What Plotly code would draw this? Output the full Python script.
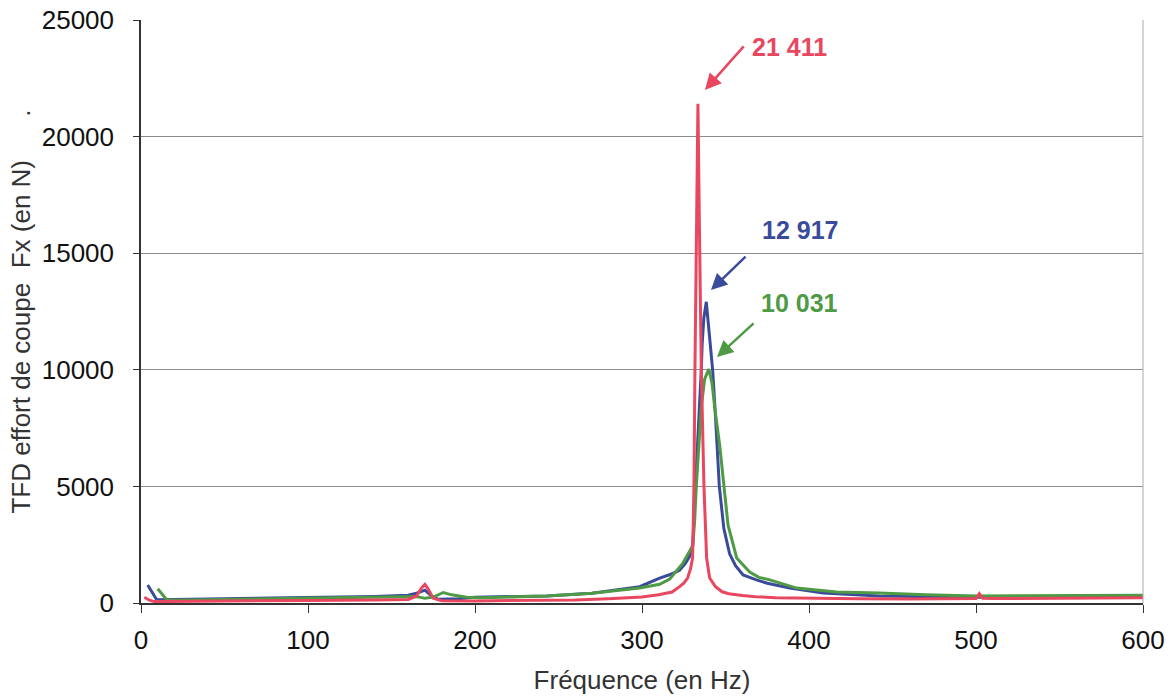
import plotly.graph_objects as go

# ---------------- data ----------------
freq_red = [2, 5, 8, 20, 50, 100, 140, 160, 165, 168, 170, 172, 175, 180, 200, 230, 260, 280,
            300, 310, 318, 322.5, 325, 327.3, 329, 330.3, 331.1, 331.7, 332.6, 333.5, 334.4,
            335.5, 337.1, 338.7, 340.5, 344, 348, 352, 360, 368, 380, 400, 430, 460, 490,
            500, 502, 504, 510, 550, 600]
fx_red = [250, 120, 60, 70, 90, 110, 130, 150, 300, 650, 800, 600, 200, 100, 90, 100, 130, 180,
          260, 350, 470, 700, 850, 1070, 1450, 1930, 5000, 10000, 16000, 21411, 16000,
          10000, 5000, 1930, 1070, 700, 480, 400, 320, 270, 230, 200, 180, 170, 180,
          190, 400, 200, 190, 200, 220]

freq_blue = [4, 9.4, 20, 50, 100, 140, 160, 165, 170, 174, 178, 190, 200, 243, 270, 298.6,
             310.6, 316, 322.5, 326, 328.5, 330.4, 332, 333.5, 334.6, 335.5, 336, 337, 338.5,
             339.7, 340.8, 342.3, 344, 346.3, 349, 352.5, 356, 360.5, 368.5, 375, 388.5,
             408.5, 442, 500, 550, 600]
fx_blue = [770, 140, 150, 180, 220, 280, 330, 420, 550, 300, 160, 180, 250, 300, 420, 700,
           1070, 1200, 1400, 1700, 2000, 2500, 5000, 7000, 8400, 10000, 11070, 12200, 12917,
           12000, 11070, 10000, 8000, 5000, 3200, 2100, 1600, 1200, 990, 850, 640,
           430, 300, 250, 260, 280]

freq_green = [10, 15.4, 20, 50, 100, 150, 165, 170, 175, 181, 186, 195, 203, 243, 270, 298.6,
              310.6, 316.6, 324.4, 330.4, 331.5, 332.5, 334, 335.5, 337.5, 340, 342, 343.5,
              346.5, 349, 351.5, 356.7, 364.5, 370, 376.5, 392.6, 416.5, 442, 470, 500,
              540, 600]
fx_green = [610, 140, 120, 150, 200, 250, 280, 200, 250, 450, 350, 250, 220, 300, 420, 640,
            800, 1030, 1700, 2450, 3500, 5000, 6780, 8400, 9600, 10031, 9400, 8400,
            6780, 5000, 3350, 1930, 1330, 1100, 990, 640, 470, 430, 350, 300,
            300, 330]

x_ticks = [0, 100, 200, 300, 400, 500, 600]
y_ticks = [0, 5000, 10000, 15000, 20000, 25000]

peak_labels = ["21 411", "12 917", "10 031"]

RED = "#E8475F"
BLUE = "#3A4B9B"
GREEN = "#4E9A45"
FONT = "Arial, Liberation Sans, sans-serif"

fig = go.Figure()
for fr, val, col, name in [(freq_blue, fx_blue, BLUE, "blue"),
                           (freq_green, fx_green, GREEN, "green"),
                           (freq_red, fx_red, RED, "red")]:
    fig.add_trace(go.Scatter(x=fr, y=val, mode="lines", name=name,
                             line=dict(color=col, width=3), showlegend=False))

# annotations: arrows + text
arrows = [
    (337.7, 22000, 361.7, 23930, RED),
    (341.3, 13420, 362.9, 14920, BLUE),
    (344.9, 10550, 367.7, 12050, GREEN),
]
for x, y, ax, ay, col in arrows:
    fig.add_annotation(x=x, y=y, ax=ax, ay=ay, xref="x", yref="y", axref="x", ayref="y",
                       text="", showarrow=True, arrowhead=2, arrowsize=1.3,
                       arrowwidth=2.5, arrowcolor=col, standoff=0, startstandoff=0)

texts = [(388.6, 23840, RED), (394.6, 16000, BLUE), (394.6, 12860, GREEN)]
for (x, y, col), lab in zip(texts, peak_labels):
    fig.add_annotation(x=x, y=y, xref="x", yref="y", text="<b>%s</b>" % lab,
                       showarrow=False, font=dict(family=FONT, size=25, color=col))

# right border of plot area
fig.add_shape(type="line", xref="paper", yref="paper", x0=1, x1=1, y0=0, y1=1,
              line=dict(color="#aaaaaa", width=1))

fig.update_layout(
    width=1176, height=696,
    margin=dict(l=141, r=33, t=20, b=93),
    paper_bgcolor="white", plot_bgcolor="white",
    font=dict(family=FONT, size=26, color="#111111"),
    xaxis=dict(range=[0, 600], tickvals=x_ticks, showgrid=False, zeroline=False,
               automargin=False,
               showline=True, linecolor="#333333", linewidth=1.5,
               ticks="outside", ticklen=8, tickcolor="#333333",
               tickfont=dict(size=26, color="#111111"), ticklabelstandoff=5,
               title=dict(text="Fréquence (en Hz)", font=dict(size=26, color="#333333"),
                          standoff=17)),
    yaxis=dict(range=[0, 25000], tickvals=y_ticks, tickformat="d", showgrid=True,
               automargin=False,
               gridcolor="#8c8c8c", gridwidth=1, zeroline=False,
               showline=True, linecolor="#333333", linewidth=1.5,
               ticks="outside", ticklen=6, tickcolor="#333333",
               tickfont=dict(size=26, color="#111111"), ticklabelstandoff=14,
               title=dict(text="TFD effort de coupe\u00a0 Fx (en N)\u00a0\u00a0\u00a0\u00a0\u00a0\u00a0.",
                          font=dict(size=26, color="#333333"), standoff=4)),
)

fig.write_html("out.html", config={"displayModeBar": False},
               post_script="document.body.style.margin='0';document.body.style.padding='0';")
